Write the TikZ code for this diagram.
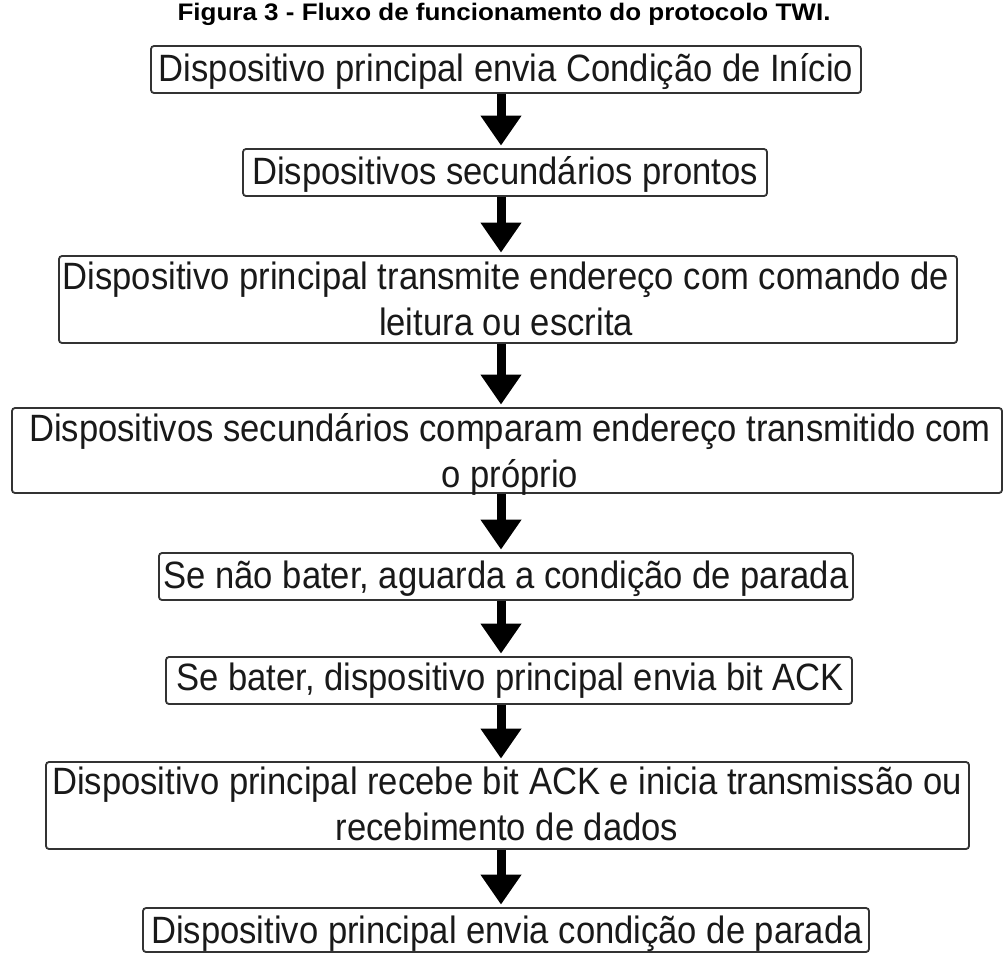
\documentclass[tikz,border=0pt]{standalone}
\usepackage{graphicx}
\usepackage{fontspec}
\setmainfont{Liberation Sans}
\usetikzlibrary{arrows.meta}
\newcommand{\vtxt}[1]{\scalebox{1}[1.1]{#1}}
\begin{document}
\begin{tikzpicture}[x=1pt,y=-1pt,
  flowbox/.style={draw=black!80, line width=1.8pt, rounded corners=3pt, inner sep=0pt, fill=white},
  boxtext/.style={anchor=base, inner sep=0pt, font=\fontsize{34.6pt}{46.5pt}\selectfont, text=black!90},
  flowarrow/.style={line width=9pt, -{Triangle[width=39pt,length=30pt]}, shorten >=2.5pt}
]
\useasboundingbox (0,0) rectangle (1003,954);
\fill[white] (0,0) rectangle (1003,954);

\node[anchor=base, inner sep=0pt, font=\bfseries\fontsize{26pt}{30pt}\selectfont] (title) at (504,20) {\scalebox{1}[0.92]{Figura 3 - Fluxo de funcionamento do protocolo TWI.}};

\node[flowbox, minimum width=710pt, minimum height=47pt] (b1) at (506,69.5) {};
\node[flowbox, minimum width=524pt, minimum height=47pt] (b2) at (505,172.5) {};
\node[flowbox, minimum width=898pt, minimum height=87pt] (b3) at (508,299.5) {};
\node[flowbox, minimum width=990pt, minimum height=85pt] (b4) at (507,450.5) {};
\node[flowbox, minimum width=694pt, minimum height=47pt] (b5) at (506,576.5) {};
\node[flowbox, minimum width=686pt, minimum height=47pt] (b6) at (509,680.5) {};
\node[flowbox, minimum width=923pt, minimum height=87pt] (b7) at (507.5,805.5) {};
\node[flowbox, minimum width=726pt, minimum height=44pt] (b8) at (506,930) {};

\node[boxtext] (t1) at (506,81.5) {\vtxt{Dispositivo principal envia Condição de Início}};
\node[boxtext] (t2) at (505,184) {\vtxt{Dispositivos secundários prontos}};
\node[boxtext] (t3a) at (506,289) {\vtxt{Dispositivo principal transmite endereço com comando de}};
\node[boxtext] (t3b) at (506,335.5) {\vtxt{leitura ou escrita}};
\node[boxtext] (t4a) at (510,441) {\vtxt{Dispositivos secundários comparam endereço transmitido com}};
\node[boxtext] (t4b) at (510,487.5) {\vtxt{o próprio}};
\node[boxtext] (t5) at (506,588.3) {\vtxt{Se não bater, aguarda a condição de parada}};
\node[boxtext] (t6) at (510,690.5) {\vtxt{Se bater, dispositivo principal envia bit ACK}};
\node[boxtext] (t7a) at (507,794) {\vtxt{Dispositivo principal recebe bit ACK e inicia transmissão ou}};
\node[boxtext] (t7b) at (507,840.5) {\vtxt{recebimento de dados}};
\node[boxtext] (t8) at (507,943.5) {\vtxt{Dispositivo principal envia condição de parada}};

\coordinate (ax) at (501,0);
\draw[flowarrow] (b1.south -| ax) -- (b2.north -| ax);
\draw[flowarrow] (b2.south -| ax) -- (b3.north -| ax);
\draw[flowarrow] (b3.south -| ax) -- (b4.north -| ax);
\draw[flowarrow] (b4.south -| ax) -- (b5.north -| ax);
\draw[flowarrow] (b5.south -| ax) -- (b6.north -| ax);
\draw[flowarrow] (b6.south -| ax) -- (b7.north -| ax);
\draw[flowarrow] (b7.south -| ax) -- (b8.north -| ax);
\end{tikzpicture}
\end{document}
